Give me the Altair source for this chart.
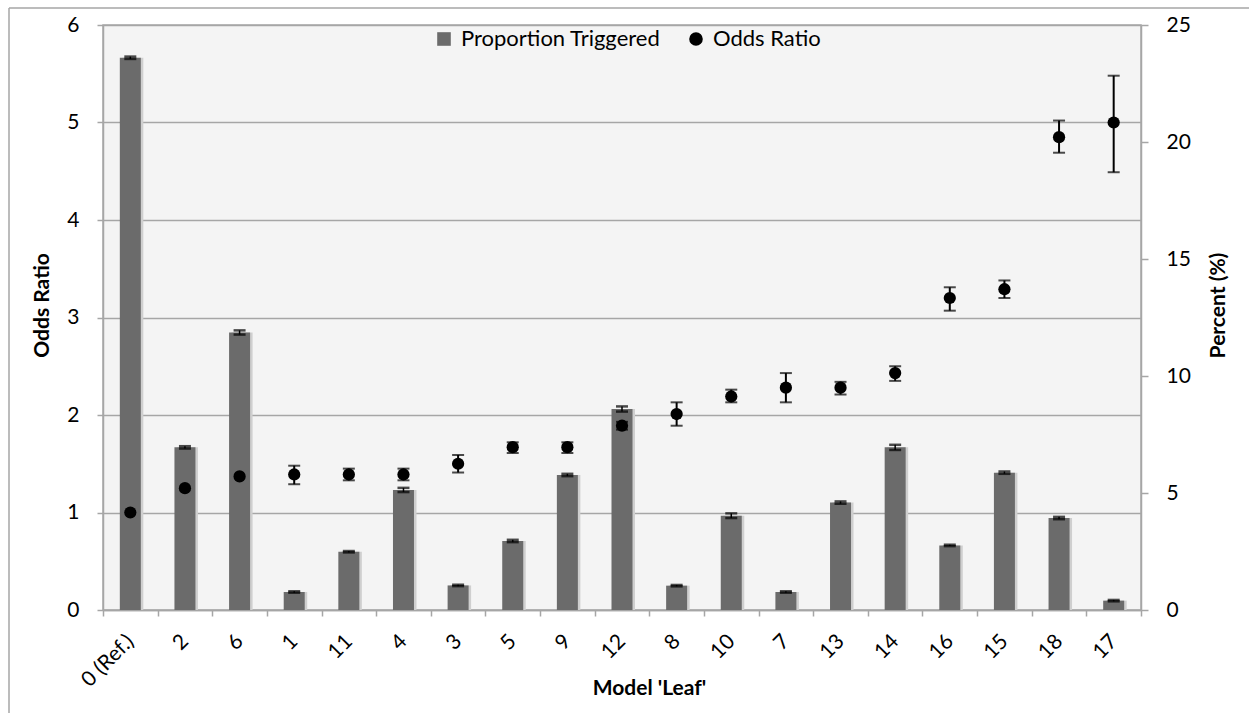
import altair as alt
import pandas as pd

# Model leaves in plotted order
leaf = ["0 (Ref.)", "2", "6", "1", "11", "4", "3", "5", "9", "12",
        "8", "10", "7", "13", "14", "16", "15", "18", "17"]

# Proportion triggered (%) with its error half-width
pct = [23.6, 6.95, 11.86, 0.77, 2.49, 5.13, 1.05, 2.95, 5.77, 8.59,
       1.04, 4.03, 0.77, 4.59, 6.95, 2.76, 5.87, 3.93, 0.40]
pct_err = [0.05, 0.05, 0.09, 0.03, 0.03, 0.09, 0.03, 0.05, 0.05, 0.11,
           0.03, 0.10, 0.03, 0.05, 0.11, 0.03, 0.05, 0.05, 0.03]

# Odds ratio with lower / upper confidence limits
odds = [1.00, 1.25, 1.37, 1.39, 1.39, 1.39, 1.50, 1.67, 1.67, 1.89,
        2.01, 2.19, 2.28, 2.28, 2.43, 3.20, 3.29, 4.85, 5.00]
odds_lo = [1.00, 1.25, 1.37, 1.29, 1.33, 1.33, 1.41, 1.61, 1.61, 1.85,
           1.89, 2.13, 2.13, 2.21, 2.35, 3.07, 3.20, 4.69, 4.49]
odds_hi = [1.00, 1.25, 1.37, 1.48, 1.45, 1.45, 1.59, 1.72, 1.72, 1.93,
           2.13, 2.26, 2.43, 2.34, 2.50, 3.31, 3.38, 5.02, 5.48]

series = ["Proportion Triggered", "Odds Ratio"]

df = pd.DataFrame({
    "leaf": leaf,
    "pct": pct,
    "pct_lo": [p - e for p, e in zip(pct, pct_err)],
    "pct_hi": [p + e for p, e in zip(pct, pct_err)],
    "odds": odds,
    "odds_lo": odds_lo,
    "odds_hi": odds_hi,
})

FONT = "Lato"
GRID = "#a6a6a6"
LABEL_SIZE = 21
TITLE_SIZE = 21

x_enc = alt.X(
    "leaf:N", sort=leaf, title="Model 'Leaf'",
    scale=alt.Scale(paddingInner=0, paddingOuter=0),
    axis=alt.Axis(
        labelAngle=315, labelAlign="right", labelBaseline="middle",
        labelPadding=22, tickBand="extent", tickSize=6, tickColor=GRID,
        domainColor=GRID, domainWidth=1.5, tickWidth=1.5,
        titleX=546, titleY=78, titleBaseline="middle", titleAlign="center",
        grid=False,
    ),
)

legend_opts = dict(
    title=None, orient="none", legendX=330, legendY=3,
    direction="horizontal", labelFontSize=22, labelFont=FONT,
    labelColor="black", labelLimit=0, symbolSize=185,
    symbolStrokeWidth=0, columnPadding=24, labelOffset=6,
)
color_enc = alt.Color(
    "series:N",
    scale=alt.Scale(domain=series, range=["#6b6b6b", "#000000"]),
    legend=alt.Legend(**legend_opts),
)
shape_enc = alt.Shape(
    "series:N",
    scale=alt.Scale(domain=series, range=["square", "circle"]),
    legend=alt.Legend(**legend_opts),
)

pct_axis = alt.Axis(
    orient="right", values=[0, 5, 10, 15, 20, 25], grid=False,
    tickSize=7, tickColor=GRID, tickWidth=1.5, domainColor=GRID,
    domainWidth=1.5, labelPadding=18, titleAngle=270, titlePadding=38,
    titleY=280,
)
odds_axis = alt.Axis(
    orient="left", values=[0, 1, 2, 3, 4, 5, 6], grid=True,
    gridColor=GRID, gridWidth=1.5, tickSize=6, tickColor=GRID,
    tickWidth=1.5, domainColor=GRID, domainWidth=1.5, labelPadding=18,
    titlePadding=14, titleY=280,
)
pct_scale = alt.Scale(domain=[0, 25], nice=False, zero=True)
odds_scale = alt.Scale(domain=[0, 6], nice=False, zero=True)

base = alt.Chart(df)

pct_y = dict(title="Percent (%)", scale=pct_scale, axis=pct_axis)
odds_y = dict(title="Odds Ratio", scale=odds_scale, axis=odds_axis)

# Soft shadow to the right of each bar
bar_shadow = base.mark_bar(size=21, xOffset=2.5, color="#cfcfcf").encode(
    x=x_enc, y=alt.Y("pct:Q", **pct_y),
)
# Bars and their error caps on the right-hand percent axis
bars = base.transform_calculate(series="'Proportion Triggered'").mark_bar(
    size=21
).encode(
    x=x_enc, y=alt.Y("pct:Q", **pct_y), color=color_enc,
)
bar_rule = base.mark_rule(color="black", strokeWidth=1.5).encode(
    x=x_enc, y=alt.Y("pct_lo:Q", **pct_y), y2="pct_hi:Q",
)
bar_cap_lo = base.mark_tick(color="black", size=12, thickness=2.5).encode(
    x=x_enc, y=alt.Y("pct_lo:Q", **pct_y),
)
bar_cap_hi = base.mark_tick(color="black", size=12, thickness=2.5).encode(
    x=x_enc, y=alt.Y("pct_hi:Q", **pct_y),
)
bar_group = alt.layer(bar_shadow, bars, bar_rule, bar_cap_lo, bar_cap_hi)

# Odds ratio points with confidence intervals on the left axis
odds_err = base.transform_filter("datum.odds_hi > datum.odds_lo")
pt_rule = odds_err.mark_rule(color="black", strokeWidth=2).encode(
    x=x_enc, y=alt.Y("odds_lo:Q", **odds_y), y2="odds_hi:Q",
)
pt_cap_lo = odds_err.mark_tick(color="black", size=12, thickness=2).encode(
    x=x_enc, y=alt.Y("odds_lo:Q", **odds_y),
)
pt_cap_hi = odds_err.mark_tick(color="black", size=12, thickness=2).encode(
    x=x_enc, y=alt.Y("odds_hi:Q", **odds_y),
)
points = base.transform_calculate(series="'Odds Ratio'").mark_point(
    filled=True, size=150, opacity=1
).encode(
    x=x_enc, y=alt.Y("odds:Q", **odds_y), color=color_enc, shape=shape_enc,
)

# Outer chart-area frame (left and top edges)
frame = alt.Chart(alt.Data(values=[{}]))
frame_left = frame.mark_rule(color=GRID, strokeWidth=1.5).encode(
    x=alt.value(-94), y=alt.value(-17), y2=alt.value(700)
)
frame_top = frame.mark_rule(color=GRID, strokeWidth=1.5).encode(
    x=alt.value(-94), x2=alt.value(1160), y=alt.value(-17)
)

odds_group = alt.layer(pt_rule, pt_cap_lo, pt_cap_hi, points)

chart = alt.layer(bar_group, odds_group, frame_left, frame_top).resolve_scale(
    y="independent"
).properties(
    width=1038, height=585,
    autosize=alt.AutoSizeParams(type="none"),
    padding={"left": 103, "top": 25, "right": 108, "bottom": 103},
    background="white",
).configure_view(
    fill="#f4f4f4", stroke=GRID, strokeWidth=1.5
).configure_axis(
    labelFont=FONT, labelFontSize=LABEL_SIZE, labelColor="black",
    titleFont=FONT, titleFontSize=TITLE_SIZE, titleFontWeight="bold",
    titleColor="black",
)

chart.save("out.html", embed_options={"renderer": "svg", "actions": False})
